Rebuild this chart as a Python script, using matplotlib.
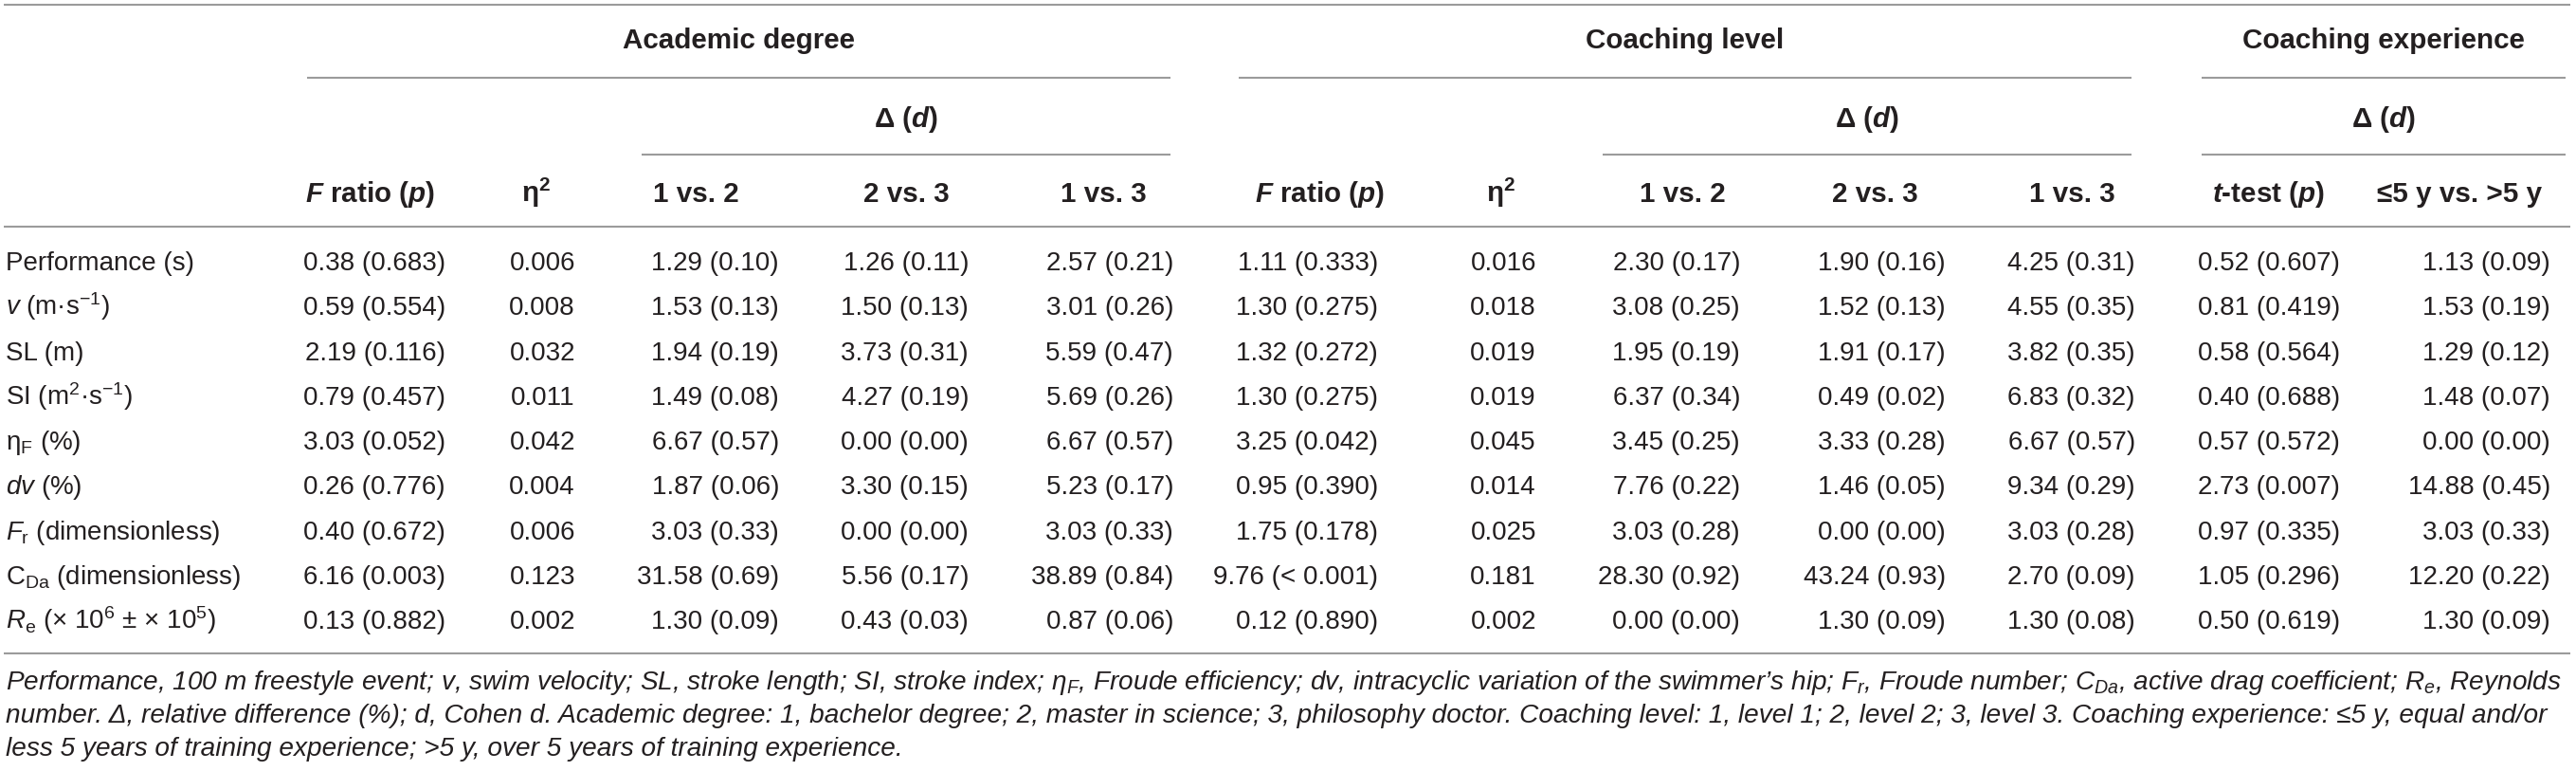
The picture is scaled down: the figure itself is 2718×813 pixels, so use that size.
import matplotlib
matplotlib.use("Agg")
import matplotlib.pyplot as plt

plt.rcParams['font.family'] = ['Liberation Sans', 'DejaVu Sans']
plt.rcParams['mathtext.fontset'] = 'custom'
plt.rcParams['mathtext.rm'] = 'Liberation Sans'
plt.rcParams['mathtext.it'] = 'Liberation Sans:italic'
plt.rcParams['mathtext.bf'] = 'Liberation Sans:bold'
plt.rcParams['mathtext.bfit'] = 'Liberation Sans:italic:bold'

# ---------------- data ----------------
row_labels = [
    "Performance (s)",
    r"$\mathit{v}$ (m·s$^{-1}$)",
    "SL (m)",
    r"SI (m$^{2}$·s$^{-1}$)",
    r"η$_{\mathrm{F}}$ (%)",
    r"$\mathit{dv}$ (%)",
    r"$\mathit{F}_{\mathrm{r}}$ (dimensionless)",
    r"C$_{\mathrm{Da}}$ (dimensionless)",
    r"$\mathit{R}_{\mathrm{e}}$ (× 10$^{6}$ ± × 10$^{5}$)",
]

group_labels = ["Academic degree", "Coaching level", "Coaching experience"]
delta_label = r"Δ ($\mathbfit{d}$)"
column_labels = [
    r"$\mathbfit{F}$ ratio ($\mathbfit{p}$)", r"η$^{\mathbf{2}}$", "1 vs. 2", "2 vs. 3", "1 vs. 3",
    r"$\mathbfit{F}$ ratio ($\mathbfit{p}$)", r"η$^{\mathbf{2}}$", "1 vs. 2", "2 vs. 3", "1 vs. 3",
    r"$\mathbfit{t}$-test ($\mathbfit{p}$)", "≤5 y vs. >5 y",
]

ad_F_p = ["0.38 (0.683)", "0.59 (0.554)", "2.19 (0.116)", "0.79 (0.457)", "3.03 (0.052)",
          "0.26 (0.776)", "0.40 (0.672)", "6.16 (0.003)", "0.13 (0.882)"]
ad_eta2 = ["0.006", "0.008", "0.032", "0.011", "0.042", "0.004", "0.006", "0.123", "0.002"]
ad_1v2 = ["1.29 (0.10)", "1.53 (0.13)", "1.94 (0.19)", "1.49 (0.08)", "6.67 (0.57)",
          "1.87 (0.06)", "3.03 (0.33)", "31.58 (0.69)", "1.30 (0.09)"]
ad_2v3 = ["1.26 (0.11)", "1.50 (0.13)", "3.73 (0.31)", "4.27 (0.19)", "0.00 (0.00)",
          "3.30 (0.15)", "0.00 (0.00)", "5.56 (0.17)", "0.43 (0.03)"]
ad_1v3 = ["2.57 (0.21)", "3.01 (0.26)", "5.59 (0.47)", "5.69 (0.26)", "6.67 (0.57)",
          "5.23 (0.17)", "3.03 (0.33)", "38.89 (0.84)", "0.87 (0.06)"]
cl_F_p = ["1.11 (0.333)", "1.30 (0.275)", "1.32 (0.272)", "1.30 (0.275)", "3.25 (0.042)",
          "0.95 (0.390)", "1.75 (0.178)", "9.76 (< 0.001)", "0.12 (0.890)"]
cl_eta2 = ["0.016", "0.018", "0.019", "0.019", "0.045", "0.014", "0.025", "0.181", "0.002"]
cl_1v2 = ["2.30 (0.17)", "3.08 (0.25)", "1.95 (0.19)", "6.37 (0.34)", "3.45 (0.25)",
          "7.76 (0.22)", "3.03 (0.28)", "28.30 (0.92)", "0.00 (0.00)"]
cl_2v3 = ["1.90 (0.16)", "1.52 (0.13)", "1.91 (0.17)", "0.49 (0.02)", "3.33 (0.28)",
          "1.46 (0.05)", "0.00 (0.00)", "43.24 (0.93)", "1.30 (0.09)"]
cl_1v3 = ["4.25 (0.31)", "4.55 (0.35)", "3.82 (0.35)", "6.83 (0.32)", "6.67 (0.57)",
          "9.34 (0.29)", "3.03 (0.28)", "2.70 (0.09)", "1.30 (0.08)"]
ce_t_p = ["0.52 (0.607)", "0.81 (0.419)", "0.58 (0.564)", "0.40 (0.688)", "0.57 (0.572)",
          "2.73 (0.007)", "0.97 (0.335)", "1.05 (0.296)", "0.50 (0.619)"]
ce_delta = ["1.13 (0.09)", "1.53 (0.19)", "1.29 (0.12)", "1.48 (0.07)", "0.00 (0.00)",
            "14.88 (0.45)", "3.03 (0.33)", "12.20 (0.22)", "1.30 (0.09)"]

columns = [ad_F_p, ad_eta2, ad_1v2, ad_2v3, ad_1v3,
           cl_F_p, cl_eta2, cl_1v2, cl_2v3, cl_1v3,
           ce_t_p, ce_delta]

footnote = [
    r"Performance, 100 m freestyle event; $v$, swim velocity; SL, stroke length; SI, stroke index; η$_{F}$, Froude efficiency; $dv$, intracyclic variation of the swimmer’s hip; $F_{r}$, Froude number; $C_{Da}$, active drag coefficient; $R_{e}$, Reynolds",
    r"number. Δ, relative difference (%); d, Cohen d. Academic degree: 1, bachelor degree; 2, master in science; 3, philosophy doctor. Coaching level: 1, level 1; 2, level 2; 3, level 3. Coaching experience: ≤5 y, equal and/or",
    r"less 5 years of training experience; >5 y, over 5 years of training experience.",
]

# ---------------- layout ----------------
W, H = 2718, 813
col_right = [470, 607, 822, 1022, 1238, 1454, 1621, 1836, 2053, 2253, 2469, 2691]
col_center = [391, 566, 734, 956, 1164, 1393, 1584, 1775, 1978, 2186, 2393, 2595]
group_spans = [(324, 1235), (1307, 2249), (2323, 2707)]
delta_spans = [(677, 1235), (1691, 2249), (2323, 2707)]
label_x = 6
foot_right = 2704
row_base0, row_step = 285, 47.25
line_color = "#9b9b9b"
text_color = "#231f20"
lw = 1.5

fig = plt.figure(figsize=(W / 100, H / 100), dpi=100)
ax = fig.add_axes([0, 0, 1, 1])
ax.set_xlim(0, W)
ax.set_ylim(H, 0)
ax.axis("off")

data_fs = 20
head_fs = 21.3
foot_fs = 20.0

# rules
for y in (5, 239, 689):
    ax.plot([4, 2712], [y, y], color=line_color, lw=lw, solid_capstyle="butt")
for x0, x1 in group_spans:
    ax.plot([x0, x1], [82, 82], color=line_color, lw=lw, solid_capstyle="butt")
for x0, x1 in delta_spans:
    ax.plot([x0, x1], [163, 163], color=line_color, lw=lw, solid_capstyle="butt")

# headers
for (x0, x1), g in zip(group_spans, group_labels):
    ax.text((x0 + x1) / 2, 51, g, ha="center", va="baseline", fontsize=head_fs,
            fontweight="bold", color=text_color)
for x0, x1 in delta_spans:
    ax.text((x0 + x1) / 2, 134, delta_label, ha="center", va="baseline", fontsize=head_fs,
            fontweight="bold", color=text_color)
for xc, lab in zip(col_center, column_labels):
    ax.text(xc, 213, lab, ha="center", va="baseline", fontsize=head_fs,
            fontweight="bold", color=text_color)

# body
for i, lab in enumerate(row_labels):
    yb = row_base0 + row_step * i
    ax.text(label_x, yb, lab, ha="left", va="baseline", fontsize=data_fs, color=text_color)
    for xr, col in zip(col_right, columns):
        ax.text(xr, yb, col[i], ha="right", va="baseline", fontsize=data_fs, color=text_color)

# footnote (first line fitted to the table width)
foot_texts = []
for j, line in enumerate(footnote):
    t = ax.text(label_x, 727 + 35 * j, line, ha="left", va="baseline", fontsize=foot_fs,
                fontstyle="italic", color=text_color)
    foot_texts.append(t)
fig.canvas.draw()
renderer = fig.canvas.get_renderer()
bb = foot_texts[0].get_window_extent(renderer)
scale = (foot_right - label_x) / bb.width
for t in foot_texts:
    t.set_fontsize(foot_fs * scale)

fig.savefig("out.png", dpi=100, facecolor="white")
